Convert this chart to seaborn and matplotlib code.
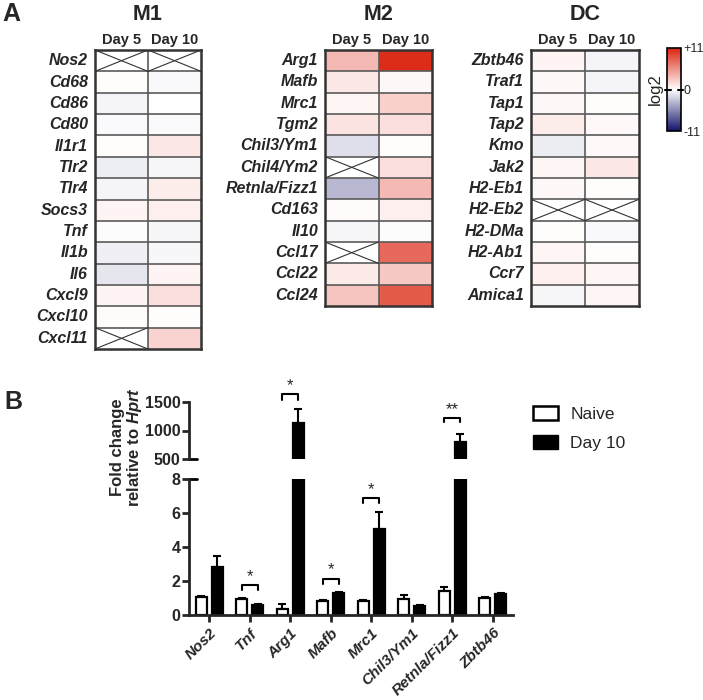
import matplotlib
matplotlib.use("Agg")
import matplotlib.pyplot as plt
import numpy as np
import pandas as pd
import seaborn as sns
from matplotlib.colors import LinearSegmentedColormap
from matplotlib.patches import Patch

# ---- panel A data (log2 fold change, NaN = not detected) ----
m1_genes = ['Nos2', 'Cd68', 'Cd86', 'Cd80', 'Il1r1', 'Tlr2', 'Tlr4', 'Socs3',
            'Tnf', 'Il1b', 'Il6', 'Cxcl9', 'Cxcl10', 'Cxcl11']
m1_day5 = [np.nan, 0.1, -0.5, -0.2, 0.1, -0.8, -0.5, 0.6, -0.1, -0.7, -1.2, 0.6, 0.2, np.nan]
m1_day10 = [np.nan, -0.3, 0.0, -0.2, 1.2, -0.4, 0.9, 0.8, -0.4, -0.4, 0.6, 1.6, 0.1, 2.2]

m2_genes = ['Arg1', 'Mafb', 'Mrc1', 'Tgm2', 'Chil3/Ym1', 'Chil4/Ym2', 'Retnla/Fizz1',
            'Cd163', 'Il10', 'Ccl17', 'Ccl22', 'Ccl24']
m2_day5 = [3.5, 1.2, 0.5, 1.4, -1.5, np.nan, -3.3, 0.2, -0.4, np.nan, 1.0, 3.0]
m2_day10 = [10.5, 0.4, 2.3, 1.6, 0.1, 1.6, 3.5, 0.8, -0.1, 7.5, 2.7, 8.2]

dc_genes = ['Zbtb46', 'Traf1', 'Tap1', 'Tap2', 'Kmo', 'Jak2', 'H2-Eb1', 'H2-Eb2',
            'H2-DMa', 'H2-Ab1', 'Ccr7', 'Amica1']
dc_day5 = [0.6, 0.4, 0.4, 0.9, -0.9, 0.5, 0.4, np.nan, 0.1, 0.5, 0.7, -0.4]
dc_day10 = [-0.5, -0.5, 0.1, 0.3, 0.3, 1.2, 0.1, np.nan, -0.3, 0.1, 0.5, 0.5]

# ---- panel B data (fold change relative to Hprt) ----
b_genes = ['Nos2', 'Tnf', 'Arg1', 'Mafb', 'Mrc1', 'Chil3/Ym1', 'Retnla/Fizz1', 'Zbtb46']
naive = [1.05, 0.95, 0.35, 0.82, 0.85, 0.97, 1.42, 0.98]
naive_err = [0.06, 0.04, 0.32, 0.05, 0.05, 0.2, 0.24, 0.1]
day10 = [2.8, 0.6, 1140, 1.3, 5.05, 0.52, 805, 1.22]
day10_err = [0.65, 0.04, 245, 0.04, 0.98, 0.04, 135, 0.06]
# (gene index, bracket top, star label)
sig_idx = [1, 2, 3, 4, 6]
sig_top = [1.75, 1640, 2.14, 6.88, 1219]
sig_lbl = ['*', '*', '*', '*', '**']

sns.set_style("ticks")
plt.rcParams['font.family'] = ['Liberation Sans', 'DejaVu Sans']
plt.rcParams['mathtext.fontset'] = 'custom'
plt.rcParams['mathtext.it'] = 'Liberation Sans:italic:bold'
plt.rcParams['mathtext.rm'] = 'Liberation Sans:bold'

W, H = 703, 700
fig = plt.figure(figsize=(W / 100, H / 100), dpi=100)


def box(x, y, w, h):
    return [x / W, 1 - (y + h) / H, w / W, h / H]


cmap = LinearSegmentedColormap.from_list('log2', ['#14146a', '#ffffff', '#db2410'])


def draw_heat(rect, genes, d5, d10, title, cax=None):
    ax = fig.add_axes(rect)
    df = pd.DataFrame({'Day 5': d5, 'Day 10': d10}, index=genes)
    sns.heatmap(df, ax=ax, cmap=cmap, vmin=-11, vmax=11, linewidths=0,
                cbar=cax is not None, cbar_ax=cax)
    n = len(genes)
    for i in range(1, n):
        ax.axhline(i, color='#5a5a5a', lw=1.2)
    ax.axvline(1, color='#5a5a5a', lw=1.2)
    # crossed cells for missing values
    for i in range(n):
        for j, col in enumerate(df.columns):
            if np.isnan(df.iloc[i, j]):
                ax.plot([j, j + 1], [i, i + 1], color='#333333', lw=0.8)
                ax.plot([j, j + 1], [i + 1, i], color='#333333', lw=0.8)
    for s in ax.spines.values():
        s.set_visible(True)
        s.set_linewidth(1.8)
        s.set_color('#333333')
    ax.xaxis.tick_top()
    ax.set_xticklabels(['Day 5', 'Day 10'], fontsize=10.5, fontweight='bold')
    ax.set_yticklabels(genes, rotation=0, fontsize=11.5, fontweight='bold', fontstyle='italic')
    ax.tick_params(axis='both', length=0)
    ax.tick_params(axis='x', pad=2)
    ax.tick_params(axis='y', pad=5)
    ax.set_xlabel('')
    ax.set_ylabel('')
    pos = ax.get_position()
    fig.text(pos.x0 + pos.width / 2, 1 - 14 / H, title, fontsize=15.5, fontweight='bold',
             ha='center', va='center')
    return ax


draw_heat(box(95, 50, 106, 299), m1_genes, m1_day5, m1_day10, 'M1')
draw_heat(box(325, 50, 107, 256), m2_genes, m2_day5, m2_day10, 'M2')
cax = fig.add_axes(box(667, 48, 14, 83))
ax_dc = draw_heat(box(531, 50, 108, 256), dc_genes, dc_day5, dc_day10, 'DC', cax=cax)

cbar = ax_dc.collections[0].colorbar
cbar.set_ticks([-11, 0, 11])
cbar.set_ticklabels(['-11', '0', '+11'])
cax.tick_params(length=0, labelsize=9, pad=2)
cbar.outline.set_linewidth(1.2)
cbar.outline.set_edgecolor('black')
cax.yaxis.set_label_position('left')
cax.set_ylabel('log2', fontsize=12, labelpad=3)
cax.axhline(0, xmin=-0.15, xmax=0.25, color='black', lw=1.5, clip_on=False)
cax.axhline(0, xmin=0.75, xmax=1.15, color='black', lw=1.5, clip_on=False)

# ---- panel B ----
ax_up = fig.add_axes(box(189, 402, 324, 57))
ax_lo = fig.add_axes(box(189, 479, 324, 136))
x = np.arange(len(b_genes))
off, bw = 0.2, 0.27
for ax in (ax_up, ax_lo):
    ax.bar(x - off, naive, bw, color='white', edgecolor='black', linewidth=1.6, zorder=2)
    ax.bar(x + off, day10, bw, color='black', edgecolor='black', linewidth=1.6, zorder=2)
    ax.errorbar(x - off, naive, yerr=[np.zeros(len(x)), naive_err], fmt='none',
                ecolor='black', elinewidth=1.5, capsize=3, capthick=1.5, zorder=1)
    ax.errorbar(x + off, day10, yerr=[np.zeros(len(x)), day10_err], fmt='none',
                ecolor='black', elinewidth=1.5, capsize=3, capthick=1.5, zorder=1)
    ax.set_xlim(-0.5, len(x) - 0.5)
    for s in ax.spines.values():
        s.set_linewidth(2)
    ax.spines['top'].set_visible(False)
    ax.spines['right'].set_visible(False)
    ax.tick_params(width=2, length=5)
    ax.tick_params(axis='y', labelsize=11.5, pad=1)

ax_lo.set_ylim(0, 8)
ax_lo.set_yticks([0, 2, 4, 6, 8])
ax_lo.set_yticklabels(['0', '2', '4', '6', '8'], fontweight='bold')
ax_lo.set_xticks(x)
ax_lo.set_xticklabels(b_genes, rotation=45, ha='right', rotation_mode='anchor',
                      fontsize=11, fontweight='bold', fontstyle='italic')
ax_lo.tick_params(axis='x', pad=3)

ax_up.set_ylim(500, 1500)
ax_up.set_yticks([500, 1000, 1500])
ax_up.set_yticklabels(['500', '1000', '1500'], fontweight='bold')
ax_up.spines['bottom'].set_visible(False)
ax_up.set_xticks([])

# break marks on the axis ends
ax_up.plot([0, 0.025], [0, 0], transform=ax_up.transAxes, color='black', lw=2, clip_on=False)
ax_lo.plot([0, 0.025], [1, 1], transform=ax_lo.transAxes, color='black', lw=2, clip_on=False)

# significance brackets
for i, top, lbl in zip(sig_idx, sig_top, sig_lbl):
    ax = ax_up if top > 8 else ax_lo
    leg = (top - 500) * 0.085 if top > 8 else 0.3
    ax.plot([i - off, i - off, i + off, i + off], [top - leg, top, top, top - leg],
            color='black', lw=1.5, clip_on=False)
    ax.text(i, top + (15 if top > 8 else 0.08), lbl, ha='center', va='bottom',
            fontsize=12, clip_on=False)

fig.text(127 / W, 1 - 447 / H, 'Fold change\nrelative to $\\mathit{Hprt}$', rotation=90,
         ha='center', va='center', fontsize=12, fontweight='bold', linespacing=1.05)

handles = [Patch(facecolor='white', edgecolor='black', linewidth=1.8, label='Naive'),
           Patch(facecolor='black', edgecolor='black', label='Day 10')]
fig.legend(handles=handles, loc='upper left', bbox_to_anchor=(533 / W, 1 - 406 / H),
           frameon=False, fontsize=12.5, handlelength=1.45, handleheight=0.85,
           handletextpad=0.7, labelspacing=0.75, borderpad=0, borderaxespad=0)

fig.text(2 / W, 1 - 14 / H, 'A', fontsize=18, fontweight='bold', va='center')
fig.text(4 / W, 1 - 402 / H, 'B', fontsize=18, fontweight='bold', va='center')

fig.savefig('out.png', dpi=100)
